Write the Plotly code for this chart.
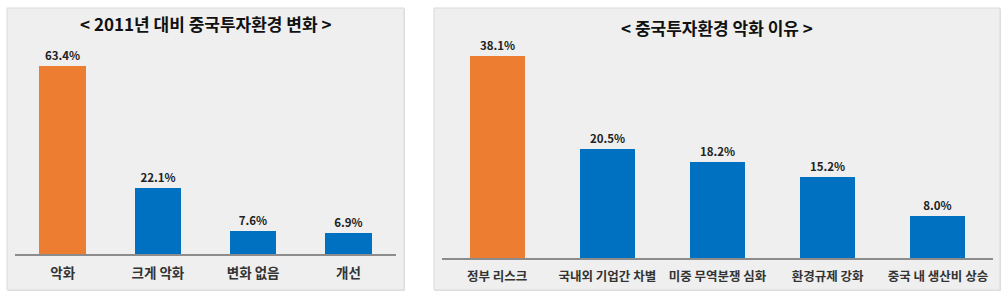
import plotly.graph_objects as go

W, H = 1007, 296

# ---- data ----
left_title = "< 2011년 대비 중국투자환경 변화 >"
left_cats = ["악화", "크게 악화", "변화 없음", "개선"]
left_vals = [63.4, 22.1, 7.6, 6.9]

right_title = "< 중국투자환경 악화 이유 >"
right_cats = ["정부 리스크", "국내외 기업간 차별", "미중 무역분쟁 심화", "환경규제 강화", "중국 내 생산비 상승"]
right_vals = [38.1, 20.5, 18.2, 15.2, 8.0]

ORANGE = "#ED7D31"
BLUE = "#0070C0"
FONT = "Noto Sans CJK KR"


def colors(n):
    return [ORANGE] + [BLUE] * (n - 1)


def px_x(x):
    return x / W


def px_y(y):
    return 1 - y / H


fig = go.Figure()

fig.add_trace(go.Bar(
    x=left_cats, y=left_vals, marker=dict(color=colors(len(left_vals)), line=dict(width=0)),
    width=0.49, text=left_vals, texttemplate="%{y:.1f}%", textposition="outside",
    textfont=dict(family=FONT, size=11.5, color="#222222", weight="bold"),
    cliponaxis=False, xaxis="x", yaxis="y", hoverinfo="skip",
))
fig.add_trace(go.Bar(
    x=right_cats, y=right_vals, marker=dict(color=colors(len(right_vals)), line=dict(width=0)),
    width=0.5, text=right_vals, texttemplate="%{y:.1f}%", textposition="outside",
    textfont=dict(family=FONT, size=11.5, color="#222222", weight="bold"),
    cliponaxis=False, xaxis="x2", yaxis="y2", hoverinfo="skip",
))

axis_common = dict(showgrid=False, zeroline=False, showline=True, linecolor="#8C8C8C",
                   linewidth=2, ticks="", fixedrange=True, ticklabelstandoff=6)
yaxis_common = dict(showgrid=False, zeroline=False, showline=False, showticklabels=False,
                    ticks="", fixedrange=True)

# left: baseline at 254px, 2.965 px/unit, range 0-70
l_top = 254 - 70 * 2.965
# right: baseline at 258px, 5.3 px/unit, range 0-40
r_top = 258 - 40 * 5.3

fig.update_layout(
    width=W, height=H, margin=dict(l=0, r=0, t=0, b=0),
    paper_bgcolor="white", plot_bgcolor="rgba(0,0,0,0)",
    showlegend=False, bargap=0,
    font=dict(family=FONT),
    xaxis=dict(domain=[px_x(15), px_x(396)], anchor="y",
               tickfont=dict(family=FONT, size=13.5, color="#333333", weight="bold"), **axis_common),
    yaxis=dict(domain=[px_y(254), px_y(l_top)], range=[0, 70], anchor="x", **yaxis_common),
    xaxis2=dict(domain=[px_x(442), px_x(993)], anchor="y2",
                tickfont=dict(family=FONT, size=12.5, color="#333333", weight="bold"), **axis_common),
    yaxis2=dict(domain=[px_y(258), px_y(r_top)], range=[0, 40], anchor="x2", **yaxis_common),
    shapes=[
        dict(type="rect", xref="paper", yref="paper", x0=px_x(8), x1=px_x(405), y0=px_y(291), y1=px_y(9),
             fillcolor="#E2E2E2", line=dict(width=0), layer="below"),
        dict(type="rect", xref="paper", yref="paper", x0=px_x(7), x1=px_x(404), y0=px_y(290), y1=px_y(8),
             fillcolor="#EFEFEF", line=dict(color="#DADADA", width=1), layer="below"),
        dict(type="rect", xref="paper", yref="paper", x0=px_x(435), x1=px_x(1001), y0=px_y(291), y1=px_y(9),
             fillcolor="#E2E2E2", line=dict(width=0), layer="below"),
        dict(type="rect", xref="paper", yref="paper", x0=px_x(434), x1=px_x(1000), y0=px_y(290), y1=px_y(8),
             fillcolor="#EFEFEF", line=dict(color="#DADADA", width=1), layer="below"),
    ],
    annotations=[
        dict(text=left_title, xref="paper", yref="paper", x=px_x(206), y=px_y(23),
             showarrow=False, xanchor="center", yanchor="middle",
             font=dict(family=FONT, size=17, color="#111111", weight="bold")),
        dict(text=right_title, xref="paper", yref="paper", x=px_x(717), y=px_y(27),
             showarrow=False, xanchor="center", yanchor="middle",
             font=dict(family=FONT, size=17, color="#111111", weight="bold")),
    ],
)

fig.write_html("out.html", config={"displayModeBar": False})
